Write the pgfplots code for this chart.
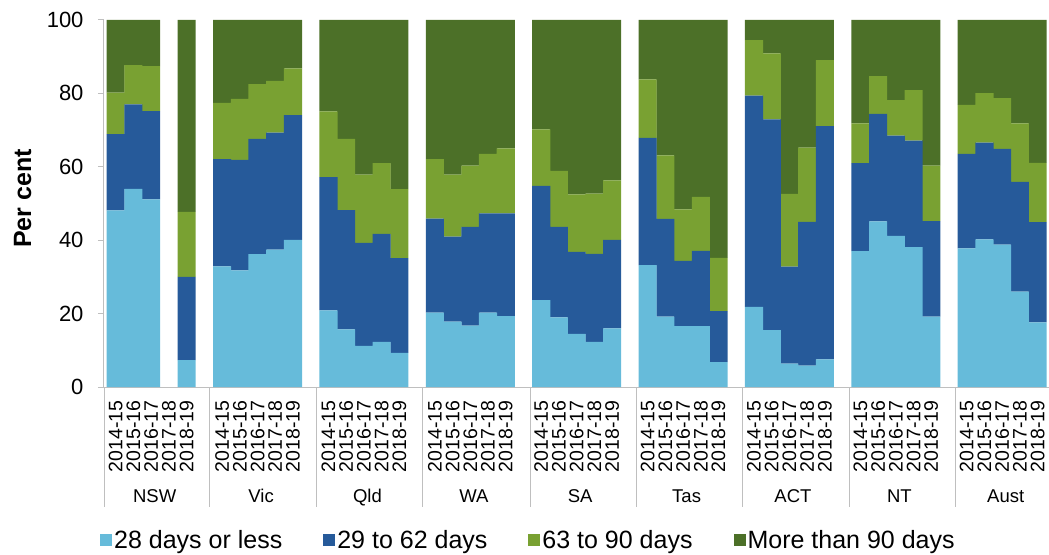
\documentclass[border=0pt]{standalone}
\usepackage{fontspec}
\setmainfont{Liberation Sans}
\usepackage{pgfplots}
\usepackage{pgfplotstable}
\pgfplotsset{compat=1.18}
\definecolor{cA}{RGB}{102,187,218}
\definecolor{cB}{RGB}{38,90,154}
\definecolor{cC}{RGB}{121,161,50}
\definecolor{cD}{RGB}{76,112,40}
\definecolor{axgray}{RGB}{191,191,191}

% x = 6*group + year index; a = 28 days or less, b = 29-62, c = 63-90, d = >90
\pgfplotstableread{
x a b c d
0 48.1 20.8 11.3 19.8
1 54.0 23.0 10.7 12.3
2 51.1 24.1 12.2 12.6
4 7.3 22.7 17.7 52.3
6 32.9 29.2 15.3 22.6
7 31.8 30.1 16.6 21.5
8 36.2 31.4 14.9 17.5
9 37.4 31.9 14.1 16.6
10 40.1 34.0 12.7 13.2
12 20.9 36.3 17.9 24.9
13 15.7 32.5 19.4 32.4
14 11.2 28.1 18.6 42.1
15 12.3 29.4 19.3 39.0
16 9.3 25.8 18.8 46.1
18 20.3 25.6 16.2 37.9
19 17.8 23.2 16.9 42.1
20 16.7 26.9 16.7 39.7
21 20.3 27.0 16.2 36.5
22 19.3 28.0 17.7 35.0
24 23.7 31.1 15.4 29.8
25 19.0 24.6 15.3 41.1
26 14.5 22.3 15.7 47.5
27 12.3 24.0 16.4 47.3
28 16.0 24.1 16.2 43.7
30 33.2 34.7 15.9 16.2
31 19.2 26.6 17.3 36.9
32 16.6 17.8 14.0 51.6
33 16.6 20.5 14.7 48.2
34 6.8 13.9 14.5 64.8
36 21.8 57.6 15.1 5.5
37 15.5 57.4 18.0 9.1
38 6.4 26.4 19.8 47.4
39 5.8 39.2 20.2 34.8
40 7.5 63.6 18.0 10.9
42 37.0 24.0 10.8 28.2
43 45.1 29.3 10.3 15.3
44 41.2 27.3 9.7 21.8
45 38.1 29.0 13.8 19.1
46 19.2 26.0 15.1 39.7
48 37.8 25.7 13.4 23.1
49 40.2 26.4 13.5 19.9
50 38.8 26.1 13.8 21.3
51 26.0 29.9 15.9 28.2
52 17.6 27.3 16.2 38.9
}\data

\begin{document}
\begin{tikzpicture}
\begin{axis}[
  scale only axis, width=945bp, height=367bp,
  xmin=-0.66, xmax=52.64, ymin=0, ymax=100,
  ybar stacked, bar width=1.02,
  axis x line*=bottom, axis y line*=left,
  axis line style={draw=axgray, line width=1bp},
  ytick={0,20,40,60,80,100},
  ytick style={draw=axgray, line width=1bp},
  tick align=outside, major tick length=6bp,
  xtick={0,1,2,3,4,6,7,8,9,10,12,13,14,15,16,18,19,20,21,22,24,25,26,27,28,30,31,32,33,34,36,37,38,39,40,42,43,44,45,46,48,49,50,51,52},
  xtick style={draw=none},
  xticklabels={2014-15,2015-16,2016-17,2017-18,2018-19,
    2014-15,2015-16,2016-17,2017-18,2018-19,
    2014-15,2015-16,2016-17,2017-18,2018-19,
    2014-15,2015-16,2016-17,2017-18,2018-19,
    2014-15,2015-16,2016-17,2017-18,2018-19,
    2014-15,2015-16,2016-17,2017-18,2018-19,
    2014-15,2015-16,2016-17,2017-18,2018-19,
    2014-15,2015-16,2016-17,2017-18,2018-19,
    2014-15,2015-16,2016-17,2017-18,2018-19},
  xticklabel style={rotate=90, anchor=east, font=\fontsize{19.5bp}{21bp}\selectfont, xshift=-4bp},
  yticklabel style={font=\fontsize{22bp}{24bp}\selectfont, xshift=-11bp},
  /pgf/number format/assume math mode=true,
  ylabel={Per cent},
  ylabel style={font=\bfseries\fontsize{25bp}{28bp}\selectfont, at={(axis description cs:-0.0862,0.5136)}, anchor=center},
  clip=false,
  legend columns=4,
  legend style={at={(-0.0042,-0.417)}, anchor=west, draw=none, fill=none,
    inner xsep=0pt, inner ysep=0pt,
    font=\fontsize{25bp}{28bp}\selectfont,
    /tikz/every even column/.append style={column sep=39bp}},
  legend image code/.code={\fill[#1] (0bp,-6bp) rectangle (12bp,6bp);},
]
\addplot[fill=cA, draw=none] table[x=x,y=a]{\data};
\addplot[fill=cB, draw=none] table[x=x,y=b]{\data};
\addplot[fill=cC, draw=none] table[x=x,y=c]{\data};
\addplot[fill=cD, draw=none] table[x=x,y=d]{\data};
\legend{28 days or less,29 to 62 days,63 to 90 days,More than 90 days}
\pgfplotsinvokeforeach{-0.64,5.3,11.3,17.3,23.38,29.38,35.38,41.38,47.38}{
  \draw[axgray, line width=1bp] (axis cs:#1,0) -- ([yshift=-120bp]axis cs:#1,0);
}
\path[font=\fontsize{18.5bp}{20bp}\selectfont]
  (axis cs:2.2,0) node[anchor=base, yshift=-115.6bp] {NSW}
  (axis cs:8.2,0) node[anchor=base, yshift=-115.6bp] {Vic}
  (axis cs:14.2,0) node[anchor=base, yshift=-115.6bp] {Qld}
  (axis cs:20.2,0) node[anchor=base, yshift=-115.6bp] {WA}
  (axis cs:26.2,0) node[anchor=base, yshift=-115.6bp] {SA}
  (axis cs:32.2,0) node[anchor=base, yshift=-115.6bp] {Tas}
  (axis cs:38.2,0) node[anchor=base, yshift=-115.6bp] {ACT}
  (axis cs:44.2,0) node[anchor=base, yshift=-115.6bp] {NT}
  (axis cs:50.2,0) node[anchor=base, yshift=-115.6bp] {Aust};
\end{axis}
\pgfresetboundingbox
\path ([shift={(-104bp,-168bp)}]current axis.south west) rectangle ([shift={(0bp,20bp)}]current axis.north east);
\end{tikzpicture}
\end{document}
